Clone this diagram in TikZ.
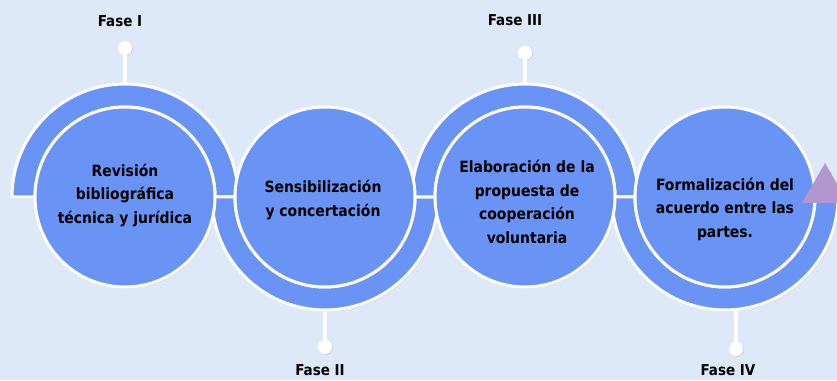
\documentclass[tikz,border=0pt]{standalone}
\usepackage{fontspec}
\setmainfont{DejaVu Sans Condensed}
\usetikzlibrary{shadows}
\definecolor{bgblue}{RGB}{221,232,248}
\definecolor{phaseblue}{RGB}{106,147,246}
\definecolor{arrowlilac}{RGB}{180,150,206}
\begin{document}
\begin{tikzpicture}[
    x=1pt, y=1pt,
    every node/.style={align=center},
    band/.style={fill=phaseblue, draw=white, line width=3pt, line join=round,
        drop shadow={opacity=0.18, shadow xshift=1.5pt, shadow yshift=-1.5pt}},
    phase circle/.style={circle, fill=phaseblue, draw=white, line width=3pt,
        minimum size=180pt, inner sep=0pt,
        drop shadow={opacity=0.18, shadow xshift=1.5pt, shadow yshift=-1.5pt}},
    phase text/.style={font=\fontsize{15.5}{23.5}\selectfont\bfseries},
    fase label/.style={font=\fontsize{15}{17}\selectfont\bfseries, inner sep=1pt},
    stem/.style={draw=white, line width=4pt},
    dot/.style={circle, fill=white, minimum size=14pt, inner sep=0pt,
        drop shadow={opacity=0.18, shadow xshift=1pt, shadow yshift=-1pt}},
    ]
\useasboundingbox (0,0) rectangle (837,380);
\fill[bgblue] (0,0) rectangle (837,380);
\coordinate (C1) at (125,183);
\coordinate (C2) at (325,183);
\coordinate (C3) at (525,183);
\coordinate (C4) at (725,183);
% half rings
\draw[band] (C1) ++(-113,0) arc[start angle=180, end angle=0, radius=113]
    -- ++(-23,0) arc[start angle=0, end angle=180, radius=90] -- cycle;
\draw[band] (C2) ++(-113,0) arc[start angle=180, end angle=360, radius=113]
    -- ++(-23,0) arc[start angle=360, end angle=180, radius=90] -- cycle;
\draw[band] (C3) ++(-113,0) arc[start angle=180, end angle=0, radius=113]
    -- ++(-23,0) arc[start angle=0, end angle=180, radius=90] -- cycle;
\draw[band] (C4) ++(-113,0) arc[start angle=180, end angle=360, radius=113]
    -- ++(-23,0) arc[start angle=360, end angle=180, radius=90] -- cycle;
% circles
\node[phase circle] (revision) at (C1) {};
\node[phase circle] (sensib) at (C2) {};
\node[phase circle] (elabor) at (C3) {};
\node[phase circle] (formal) at (C4) {};
% phase markers
\coordinate (topI) at (125,296);
\coordinate (botII) at (325,70);
\coordinate (topIII) at (525,296);
\coordinate (botIV) at (736,71);
\node[dot] (dotI) at (125,332) {};
\node[dot] (dotII) at (325,33) {};
\node[dot] (dotIII) at (525,327) {};
\node[dot] (dotIV) at (736,31) {};
\draw[stem] (topI) -- (dotI);
\draw[stem] (botII) -- (dotII);
\draw[stem] (topIII) -- (dotIII);
\draw[stem] (botIV) -- (dotIV);
\node[fase label] (faseI) at (120,359) {Fase I};
\node[fase label] (faseII) at (320,10) {Fase II};
\node[fase label] (faseIII) at (515,360) {Fase III};
\node[fase label] (faseIV) at (728,10) {Fase IV};
% arrow head
\fill[arrowlilac] (802,177) -- (825,217) -- (848,177) -- cycle;
% texts
\node[phase text] (revisionT) at (125,185) {Revisión\\bibliográfica\\técnica y jurídica};
\node[phase text] (sensibT) at (323,180) {Sensibilización\\y concertación};
\node[phase text] (elaborT) at (527,178) {Elaboración de la\\propuesta de\\cooperación\\voluntaria};
\node[phase text] (formalT) at (725,171) {Formalización del\\acuerdo entre las\\partes.};
\end{tikzpicture}
\end{document}
